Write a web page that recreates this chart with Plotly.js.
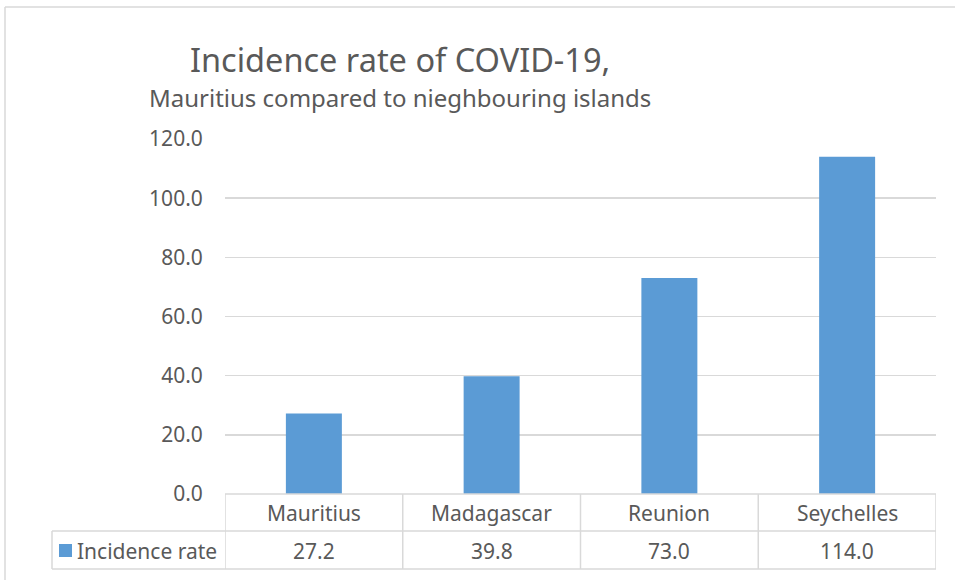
<!DOCTYPE html>
<html>
<head>
<meta charset="utf-8">
<script src="https://cdn.plot.ly/plotly-3.0.1.min.js"></script>
<style>html,body{margin:0;padding:0;background:#fff;}#chart{width:955px;height:580px;}</style>
</head>
<body>
<div id="chart"></div>
<script>
const categories = ["Mauritius", "Madagascar", "Reunion", "Seychelles"];
const incidenceRate = [27.2, 39.8, 73.0, 114.0];
const seriesName = "Incidence rate";
const yTicks = [0, 20, 40, 60, 80, 100, 120];
const titleText = "Incidence rate of COVID-19,";
const subtitleText = "Mauritius compared to nieghbouring islands";

const FONT = "Noto Sans, Open Sans, sans-serif";
const TXT = "#595959";
const GRID = "#D9D9D9";
const BAR = "#5B9BD5";

// plot area pixel geometry
const L = 225, R = 936, T = 139, B = 494, W = 955, H = 580;
const px = x => (x - L) / (R - L);
const py = y => (B - y) / (B - T);

const shapes = [];
const annotations = [];
const line = (xref, x0, x1, y0, y1) => shapes.push({type: "line", xref: xref, yref: "paper", x0: x0, x1: x1, y0: y0, y1: y1, line: {color: GRID, width: 1.5}});

// outer chart border (left + top)
line("paper", px(5), px(5), py(7), py(600));
line("paper", px(5), px(970), py(7), py(7));

// data table
const rowMid = py(531), rowBot = py(569);
line("paper", 0, 1, 0, 0);
line("paper", px(52), 1, rowMid, rowMid);
line("paper", px(52), 1, rowBot, rowBot);
line("paper", px(52), px(52), rowMid, rowBot);
for (let i = 0; i <= categories.length; i++) {
  line("x", i - 0.5, i - 0.5, 0, rowBot);
}
categories.forEach((c, i) => {
  annotations.push({xref: "x", yref: "paper", x: i, y: py(513), text: c, showarrow: false, font: {family: FONT, size: 21, color: TXT}, yanchor: "middle"});
  annotations.push({xref: "x", yref: "paper", x: i, y: py(551), text: incidenceRate[i].toFixed(1), showarrow: false, font: {family: FONT, size: 21, color: TXT}, yanchor: "middle"});
});
// legend key
shapes.push({type: "rect", xref: "paper", yref: "paper", x0: px(59), x1: px(72), y0: py(544), y1: py(557), fillcolor: BAR, line: {width: 0}});
annotations.push({xref: "paper", yref: "paper", x: px(75), y: py(551), xanchor: "left", text: seriesName, showarrow: false, font: {family: FONT, size: 21, color: TXT}, yanchor: "middle"});

// titles
annotations.push({xref: "paper", yref: "paper", x: px(400), y: py(59), text: titleText, showarrow: false, font: {family: FONT, size: 32.5, color: TXT}, xanchor: "center", yanchor: "middle"});
annotations.push({xref: "paper", yref: "paper", x: px(400), y: py(98), text: subtitleText, showarrow: false, font: {family: FONT, size: 24, color: TXT}, xanchor: "center", yanchor: "middle"});

const trace = {
  type: "bar",
  x: categories,
  y: incidenceRate,
  name: seriesName,
  marker: {color: BAR},
  width: 0.315,
  hoverinfo: "x+y"
};

const layout = {
  width: W, height: H,
  margin: {l: L, r: W - R, t: T, b: H - B, pad: 0},
  paper_bgcolor: "#fff", plot_bgcolor: "#fff",
  showlegend: false,
  xaxis: {type: "category", range: [-0.5, 3.5], showticklabels: false, showgrid: false, zeroline: false, showline: false, ticks: ""},
  yaxis: {range: [0, 120], tickvals: yTicks, ticktext: yTicks.map(v => v.toFixed(1)), showgrid: true, gridcolor: GRID, gridwidth: 1.5, zeroline: false, showline: false, ticks: "outside", ticklen: 17, tickcolor: "rgba(0,0,0,0)", tickfont: {family: FONT, size: 21, color: TXT}},
  shapes: shapes,
  annotations: annotations,
  font: {family: FONT, color: TXT}
};

Plotly.newPlot("chart", [trace], layout, {displayModeBar: false, staticPlot: true});
</script>
</body>
</html>
